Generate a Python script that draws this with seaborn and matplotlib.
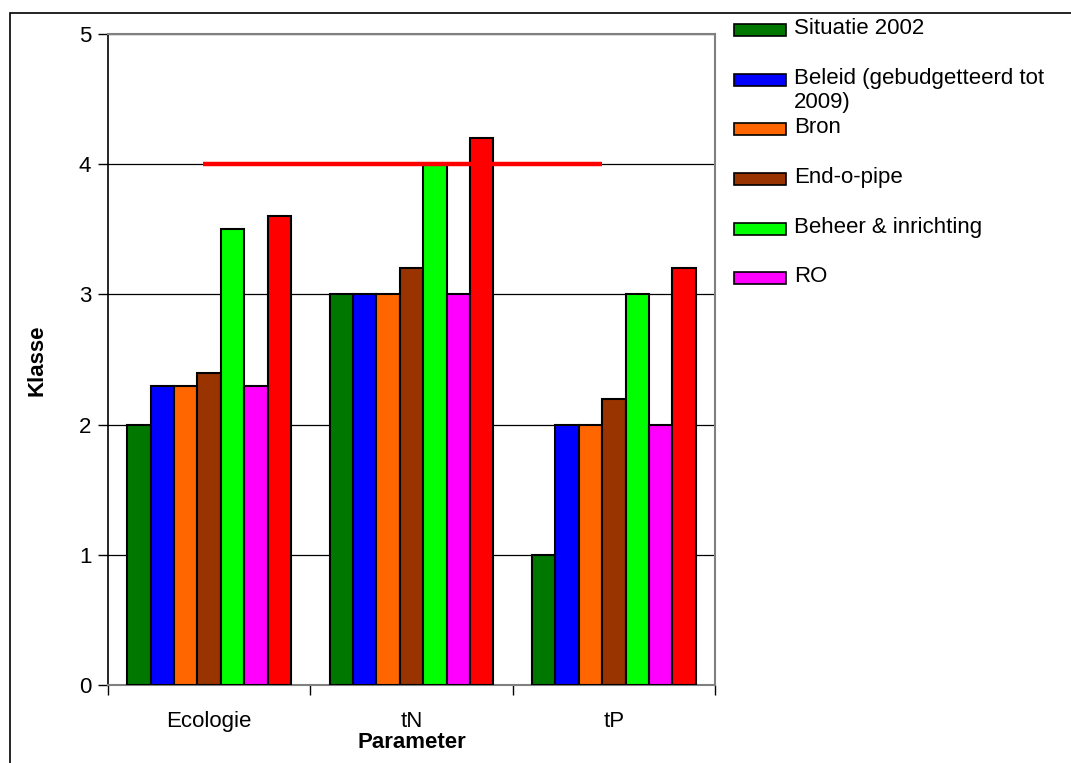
import matplotlib
matplotlib.use("Agg")
import matplotlib.pyplot as plt
from matplotlib.patches import Rectangle
import seaborn as sns
import pandas as pd

# Data
parameters = ["Ecologie", "tN", "tP"]
series_names = [
    "Situatie 2002",
    "Beleid (gebudgetteerd tot 2009)",
    "Bron",
    "End-o-pipe",
    "Beheer & inrichting",
    "RO",
    "Alle maatregelen",
]
legend_labels = [
    "Situatie 2002",
    "Beleid (gebudgetteerd tot\n2009)",
    "Bron",
    "End-o-pipe",
    "Beheer & inrichting",
    "RO",
]
situatie_2002 = [2.0, 3.0, 1.0]
beleid = [2.3, 3.0, 2.0]
bron = [2.3, 3.0, 2.0]
end_o_pipe = [2.4, 3.2, 2.2]
beheer_inrichting = [3.5, 4.0, 3.0]
ro = [2.3, 3.0, 2.0]
alle_maatregelen = [3.6, 4.2, 3.2]
target_value = 4.0

colors = ["#007800", "#0000FF", "#FF6600", "#993300", "#00FF00", "#FF00FF", "#FF0000"]

values = [situatie_2002, beleid, bron, end_o_pipe, beheer_inrichting, ro, alle_maatregelen]
rows = []
for name, vals in zip(series_names, values):
    for p, v in zip(parameters, vals):
        rows.append({"Parameter": p, "Serie": name, "Klasse": v})
df = pd.DataFrame(rows)

sns.set_style("white")
plt.rcParams["font.family"] = ["Liberation Sans", "DejaVu Sans"]
plt.rcParams["text.color"] = "black"
plt.rcParams["axes.labelcolor"] = "black"
plt.rcParams["xtick.color"] = "black"
plt.rcParams["ytick.color"] = "black"

FS = 16
W, H = 1071, 763
fig = plt.figure(figsize=(W / 100, H / 100), dpi=100)
ax = fig.add_axes([108 / W, 1 - 685 / H, (715 - 108) / W, (685 - 34) / H])

sns.barplot(
    data=df, x="Parameter", y="Klasse", hue="Serie",
    order=parameters, hue_order=series_names,
    palette=colors, saturation=1, width=0.81, gap=0, errorbar=None,
    edgecolor="black", linewidth=1.5, legend=False, ax=ax, zorder=3,
)

ax.set_ylim(0, 5)
ax.set_xlim(-0.5, 2.5)
ax.set_yticks([0, 1, 2, 3, 4, 5])
ax.yaxis.grid(True, color="black", linewidth=0.9, zorder=0)
ax.set_axisbelow(True)

# Target line at class 4
ax.plot([-0.03, 1.94], [target_value, target_value], color="#FF0000", linewidth=3.2,
        solid_capstyle="butt", zorder=4)

# Category ticks on group boundaries, labels at group centres
ax.set_xticks([-0.5, 0.5, 1.5, 2.5])
ax.set_xticklabels([])
ax.set_xticks([0, 1, 2], minor=True)
ax.set_xticklabels(parameters, minor=True)
ax.tick_params(axis="x", which="major", direction="out", length=7, width=1, color="black", bottom=True)
ax.tick_params(axis="x", which="minor", length=0, pad=19, labelsize=FS)
ax.tick_params(axis="y", direction="out", length=7, width=1, color="black", left=True, pad=5, labelsize=FS)

for side in ["top", "right", "bottom"]:
    ax.spines[side].set_color("#808080")
    ax.spines[side].set_linewidth(1.5)
ax.spines["left"].set_color("black")
ax.spines["left"].set_linewidth(1.2)

ax.set_xlabel("Parameter", fontsize=FS, fontweight="bold", labelpad=0)
ax.set_ylabel("Klasse", fontsize=FS, fontweight="bold")
ax.yaxis.set_label_coords(47 / W, 1 - 360 / H, transform=fig.transFigure)

# Legend drawn as swatches with text, fixed row spacing
centers = [30, 80, 129, 179, 229, 278]
for lab, col, cy in zip(legend_labels, colors, centers):
    fig.patches.append(Rectangle((734 / W, 1 - (cy + 6) / H), 52 / W, 12 / H,
                                 transform=fig.transFigure, facecolor=col,
                                 edgecolor="black", linewidth=1.2))
    fig.text(794 / W, 1 - (cy - 12) / H, lab, fontsize=FS, va="top", ha="left",
             linespacing=1.2)

# Outer chart frame
fig.patches.append(Rectangle((10 / W, -0.1), 1.2, 1 - 13 / H + 0.1,
                             transform=fig.transFigure, fill=False,
                             edgecolor="black", linewidth=1.2))

fig.savefig("out.png", dpi=100)
